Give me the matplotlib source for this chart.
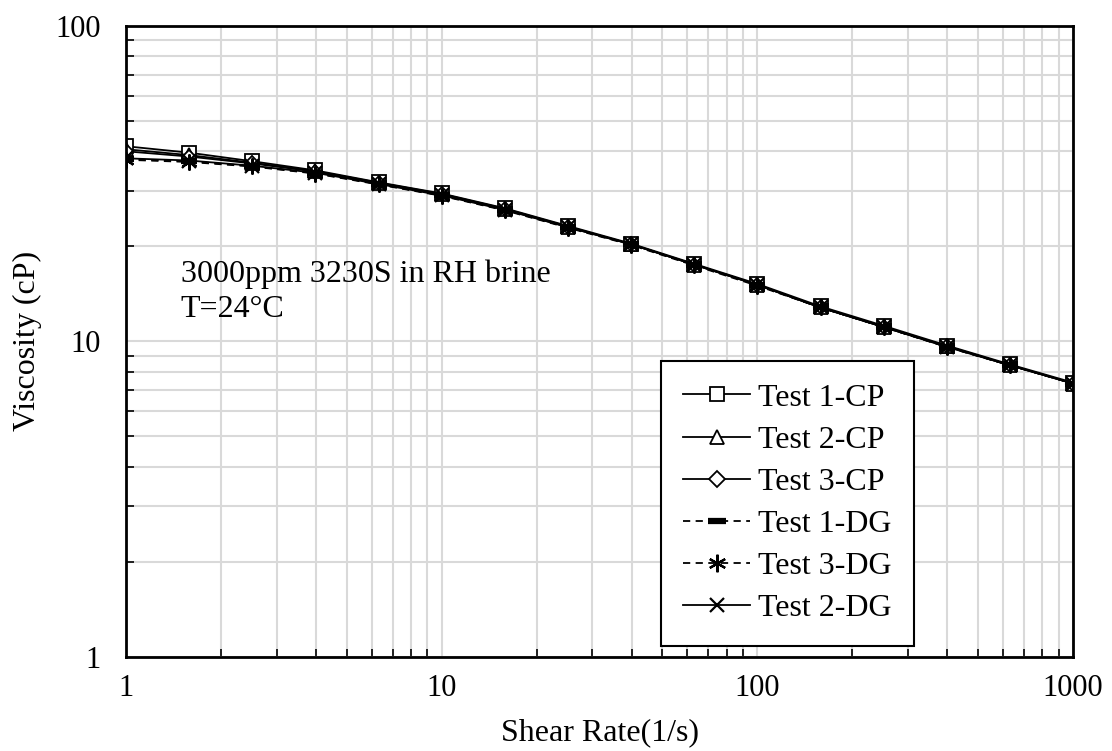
import matplotlib
matplotlib.use("Agg")
import matplotlib.pyplot as plt
from matplotlib.ticker import LogLocator, NullFormatter, FixedLocator, FixedFormatter

plt.rcParams['font.family'] = ['Liberation Serif', 'DejaVu Serif']

# shear rates (1/s), 5 points per decade
shear_rate = [1, 1.585, 2.512, 3.981, 6.31, 10, 15.85, 25.12, 39.81, 63.1,
              100, 158.5, 251.2, 398.1, 631, 1000]

test1_cp = [41.5, 39.6, 37.2, 34.8, 31.9, 29.4, 26.4, 23.2, 20.4, 17.6,
            15.2, 12.9, 11.2, 9.7, 8.45, 7.4]
test2_cp = [40.6, 38.9, 36.8, 34.6, 31.8, 29.3, 26.3, 23.1, 20.3, 17.5,
            15.1, 12.8, 11.1, 9.65, 8.4, 7.35]
test3_cp = [40.0, 38.5, 36.6, 34.5, 31.7, 29.2, 26.2, 23.0, 20.3, 17.5,
            15.1, 12.8, 11.1, 9.65, 8.4, 7.35]
test1_dg = [37.8, 37.2, 35.9, 34.1, 31.5, 29.0, 26.1, 23.0, 20.3, 17.5,
            15.1, 12.8, 11.1, 9.6, 8.4, 7.35]
test3_dg = [37.6, 37.0, 35.8, 34.0, 31.4, 28.9, 26.0, 22.9, 20.2, 17.4,
            15.0, 12.8, 11.1, 9.6, 8.4, 7.35]
test2_dg = [38.0, 37.4, 36.0, 34.2, 31.5, 29.0, 26.1, 23.0, 20.3, 17.5,
            15.1, 12.8, 11.1, 9.6, 8.4, 7.35]

x_ticks = [1, 10, 100, 1000]
y_ticks = [1, 10, 100]

fig = plt.figure(figsize=(11.12, 7.51), dpi=100)
ax = fig.add_axes([0.1133, 0.1252, 0.8517, 0.8406])

ms = 9.5
lw = 1.3
ax.plot(shear_rate, test1_cp, '-', color='black', lw=lw, marker='s', ms=ms,
        mfc='white', mec='black', mew=1.3, label='Test 1-CP')
ax.plot(shear_rate, test2_cp, '-', color='black', lw=lw, marker='^', ms=ms,
        mfc='white', mec='black', mew=1.3, label='Test 2-CP')
ax.plot(shear_rate, test3_cp, '-', color='black', lw=lw, marker='D', ms=ms - 2,
        mfc='white', mec='black', mew=1.3, label='Test 3-CP')
ax.plot(shear_rate, test1_dg, '--', color='black', lw=lw, marker='_', ms=ms + 2,
        mec='black', mew=4.5, label='Test 1-DG', dashes=(4, 3))
ax.plot(shear_rate, test3_dg, '--', color='black', lw=lw, marker=(6, 2, 0), ms=ms + 2,
        mec='black', mew=1.6, label='Test 3-DG', dashes=(4, 3))
ax.plot(shear_rate, test2_dg, '-', color='black', lw=lw, marker='x', ms=ms,
        mec='black', mew=1.6, label='Test 2-DG')

ax.set_xscale('log')
ax.set_yscale('log')
ax.set_xlim(1, 1000)
ax.set_ylim(1, 100)

ax.xaxis.set_major_locator(FixedLocator(x_ticks))
ax.xaxis.set_major_formatter(FixedFormatter([str(v) for v in x_ticks]))
ax.yaxis.set_major_locator(FixedLocator(y_ticks))
ax.yaxis.set_major_formatter(FixedFormatter([str(v) for v in y_ticks]))
ax.xaxis.set_minor_locator(LogLocator(base=10, subs=range(2, 10)))
ax.yaxis.set_minor_locator(LogLocator(base=10, subs=range(2, 10)))
ax.xaxis.set_minor_formatter(NullFormatter())
ax.yaxis.set_minor_formatter(NullFormatter())

ax.grid(True, which='both', color='#d9d9d9', lw=1.5, zorder=0)
ax.set_axisbelow(True)
ax.tick_params(axis='x', which='major', length=0, pad=12, labelsize=22)
ax.tick_params(axis='y', which='major', length=0, pad=18, labelsize=22)
ax.tick_params(axis='both', which='minor', direction='in', length=6, width=1.2)
for s in ax.spines.values():
    s.set_linewidth(2)

ax.set_xlabel('Shear Rate(1/s)', fontsize=23, labelpad=11)
ax.set_ylabel('Viscosity (cP)', fontsize=23, labelpad=10)

ax.text(0.058, 0.594, '3000ppm 3230S in RH brine', transform=ax.transAxes,
        fontsize=23, va='baseline', ha='left')
ax.text(0.058, 0.539, 'T=24°C', transform=ax.transAxes,
        fontsize=23, va='baseline', ha='left')

leg = ax.legend(loc='upper right', bbox_to_anchor=(0.832, 0.469), fontsize=23,
                frameon=True, fancybox=False, edgecolor='black', handlelength=2.1,
                labelspacing=0.4, borderpad=0.7, borderaxespad=0,
                handletextpad=0.25, markerscale=1.1)
leg.get_frame().set_linewidth(1.5)
leg.get_frame().set_alpha(1)

fig.savefig('out.png', dpi=100, facecolor='white')
